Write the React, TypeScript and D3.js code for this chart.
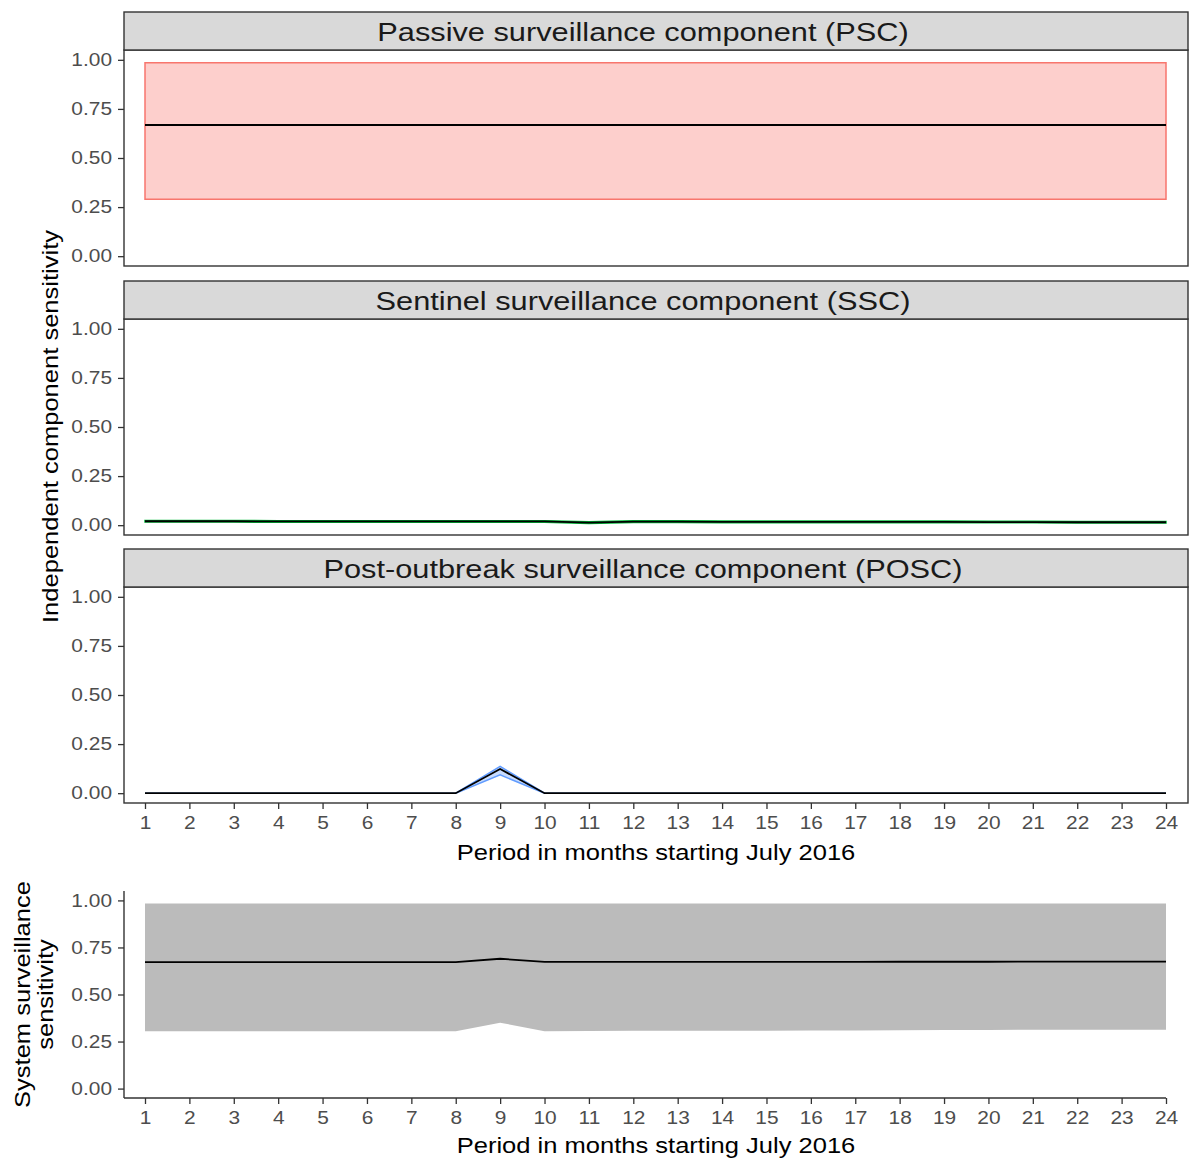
import { useEffect, useRef } from 'react';
import * as d3 from 'd3';

const periods = [1, 2, 3, 4, 5, 6, 7, 8, 9, 10, 11, 12, 13, 14, 15, 16, 17, 18, 19, 20, 21, 22, 23, 24];
const yTicks = [0, 0.25, 0.5, 0.75, 1];

// Passive surveillance component
const pscMedian = [0.668, 0.668, 0.668, 0.668, 0.668, 0.668, 0.668, 0.668, 0.668, 0.668, 0.668, 0.668, 0.668, 0.668, 0.668, 0.668, 0.668, 0.668, 0.668, 0.668, 0.668, 0.668, 0.668, 0.668];
const pscLower = [0.29, 0.29, 0.29, 0.29, 0.29, 0.29, 0.29, 0.29, 0.29, 0.29, 0.29, 0.29, 0.29, 0.29, 0.29, 0.29, 0.29, 0.29, 0.29, 0.29, 0.29, 0.29, 0.29, 0.29];
const pscUpper = [0.985, 0.985, 0.985, 0.985, 0.985, 0.985, 0.985, 0.985, 0.985, 0.985, 0.985, 0.985, 0.985, 0.985, 0.985, 0.985, 0.985, 0.985, 0.985, 0.985, 0.985, 0.985, 0.985, 0.985];

// Sentinel surveillance component
const sscMedian = [0.02, 0.02, 0.02, 0.019, 0.019, 0.019, 0.019, 0.019, 0.019, 0.019, 0.013, 0.018, 0.018, 0.017, 0.017, 0.017, 0.017, 0.017, 0.017, 0.016, 0.016, 0.015, 0.015, 0.015];
const sscLower = [0.016, 0.016, 0.016, 0.015, 0.015, 0.015, 0.015, 0.015, 0.015, 0.015, 0.009, 0.014, 0.014, 0.013, 0.013, 0.013, 0.013, 0.013, 0.013, 0.012, 0.012, 0.011, 0.011, 0.011];
const sscUpper = [0.024, 0.024, 0.024, 0.023, 0.023, 0.023, 0.023, 0.023, 0.023, 0.023, 0.017, 0.022, 0.022, 0.021, 0.021, 0.021, 0.021, 0.021, 0.021, 0.02, 0.02, 0.019, 0.019, 0.019];

// Post-outbreak surveillance component
const poscMedian = [0, 0, 0, 0, 0, 0, 0, 0, 0.123, 0, 0, 0, 0, 0, 0, 0, 0, 0, 0, 0, 0, 0, 0, 0];
const poscLower = [0, 0, 0, 0, 0, 0, 0, 0, 0.093, 0, 0, 0, 0, 0, 0, 0, 0, 0, 0, 0, 0, 0, 0, 0];
const poscUpper = [0, 0, 0, 0, 0, 0, 0, 0, 0.137, 0, 0, 0, 0, 0, 0, 0, 0, 0, 0, 0, 0, 0, 0, 0];

// System surveillance sensitivity
const sysMedian = [0.672, 0.672, 0.672, 0.672, 0.672, 0.672, 0.672, 0.672, 0.69, 0.673, 0.673, 0.673, 0.673, 0.673, 0.673, 0.673, 0.673, 0.674, 0.674, 0.674, 0.675, 0.675, 0.675, 0.675];
const sysLower = [0.305, 0.305, 0.305, 0.305, 0.305, 0.305, 0.305, 0.305, 0.35, 0.305, 0.306, 0.307, 0.307, 0.308, 0.308, 0.309, 0.309, 0.31, 0.312, 0.312, 0.313, 0.313, 0.313, 0.313];
const sysUpper = [0.984, 0.984, 0.984, 0.984, 0.984, 0.984, 0.984, 0.984, 0.984, 0.984, 0.984, 0.984, 0.984, 0.984, 0.984, 0.984, 0.984, 0.984, 0.984, 0.984, 0.984, 0.984, 0.984, 0.984];

const facets = [
  { title: 'Passive surveillance component (PSC)', median: pscMedian, lower: pscLower, upper: pscUpper, fill: '#F8766D', stroke: '#F8766D', top: 12 },
  { title: 'Sentinel surveillance component (SSC)', median: sscMedian, lower: sscLower, upper: sscUpper, fill: '#00BA38', stroke: '#00BA38', top: 281 },
  { title: 'Post-outbreak surveillance component (POSC)', median: poscMedian, lower: poscLower, upper: poscUpper, fill: '#619CFF', stroke: '#619CFF', top: 549 },
];

const FONT = '"Liberation Sans", Arial, Helvetica, sans-serif';
// the original font runs wider than Liberation Sans
const WIDEN = 1.16;

const App = () => {
  const svgRef = useRef<SVGSVGElement>(null);

  useEffect(() => {
    const svg = d3.select(svgRef.current);
    svg.selectAll('*').remove();

    const left = 124;
    const right = 1188;
    const stripH = 38;
    const panelH = 216;

    const x = d3.scaleLinear().domain([1, 24]).range([145, 1166]);

    const drawYAxis = (y: d3.ScaleLinear<number, number>) => {
      const ga = svg.append('g').attr('transform', `translate(${left},0)`)
        .call(d3.axisLeft(y).tickValues(yTicks).tickFormat(d3.format('.2f')).tickSize(6).tickPadding(6));
      ga.select('.domain').remove();
      ga.selectAll('.tick line').attr('stroke', '#333333').attr('stroke-width', 1.3);
      ga.selectAll('.tick text').attr('fill', '#4D4D4D').attr('font-size', 18).attr('font-family', FONT);
    };

    const drawXAxis = (yPos: number, titleY: number) => {
      const ga = svg.append('g').attr('transform', `translate(0,${yPos})`)
        .call(d3.axisBottom(x).tickValues(periods).tickFormat(d3.format('d')).tickSize(6).tickPadding(7));
      ga.select('.domain').remove();
      ga.selectAll('.tick line').attr('stroke', '#333333').attr('stroke-width', 1.3);
      ga.selectAll('.tick text').attr('fill', '#4D4D4D').attr('font-size', 18).attr('font-family', FONT);
      svg.append('text')
        .attr('x', (left + right) / 2)
        .attr('y', titleY)
        .attr('text-anchor', 'middle')
        .attr('font-size', 22)
        .attr('font-family', FONT)
        .attr('fill', '#000')
        .text('Period in months starting July 2016');
    };

    facets.forEach((f, fi) => {
      const pTop = f.top + stripH;
      const pBottom = pTop + panelH;
      const y = d3.scaleLinear().domain([-0.05, 1.05]).range([pBottom, pTop]);
      const rows = periods.map((p, i) => ({ p, m: f.median[i], lo: f.lower[i], hi: f.upper[i] }));

      svg.append('rect')
        .attr('x', left).attr('y', pTop).attr('width', right - left).attr('height', panelH)
        .attr('fill', '#fff');

      const area = d3.area<any>().x(d => x(d.p)).y0(d => y(d.lo)).y1(d => y(d.hi));
      svg.append('path')
        .datum(rows)
        .attr('d', area)
        .attr('fill', f.fill)
        .attr('fill-opacity', 0.35)
        .attr('stroke', f.stroke)
        .attr('stroke-width', 1.5);

      const line = d3.line<any>().x(d => x(d.p)).y(d => y(d.m));
      svg.append('path')
        .datum(rows)
        .attr('d', line)
        .attr('fill', 'none')
        .attr('stroke', '#000')
        .attr('stroke-width', 1.8);

      // panel border
      svg.append('rect')
        .attr('x', left).attr('y', pTop).attr('width', right - left).attr('height', panelH)
        .attr('fill', 'none').attr('stroke', '#333333').attr('stroke-width', 1.4);

      // strip
      svg.append('rect')
        .attr('x', left).attr('y', f.top).attr('width', right - left).attr('height', stripH)
        .attr('fill', '#D9D9D9').attr('stroke', '#333333').attr('stroke-width', 1.4);
      svg.append('text')
        .attr('x', 643)
        .attr('y', f.top + stripH / 2)
        .attr('dy', '0.36em')
        .attr('text-anchor', 'middle')
        .attr('font-size', 26.5)
        .attr('font-family', FONT)
        .attr('fill', '#1A1A1A')
        .text(f.title);

      drawYAxis(y);
      if (fi === facets.length - 1) drawXAxis(pBottom, 860);
    });

    svg.append('text')
      .attr('transform', `translate(58,${(50 + 803) / 2}) rotate(-90)`)
      .attr('text-anchor', 'middle')
      .attr('font-size', 22)
      .attr('font-family', FONT)
      .attr('fill', '#000')
      .text('Independent component sensitivity');

    // system panel
    const sTop = 891;
    const sBottom = 1098;
    const ys = d3.scaleLinear().domain([-0.05, 1.05]).range([sBottom, sTop]);
    const sysRows = periods.map((p, i) => ({ p, m: sysMedian[i], lo: sysLower[i], hi: sysUpper[i] }));

    svg.append('path')
      .datum(sysRows)
      .attr('d', d3.area<any>().x(d => x(d.p)).y0(d => ys(d.lo)).y1(d => ys(d.hi)))
      .attr('fill', '#BBBBBB');
    svg.append('path')
      .datum(sysRows)
      .attr('d', d3.line<any>().x(d => x(d.p)).y(d => ys(d.m)))
      .attr('fill', 'none')
      .attr('stroke', '#000')
      .attr('stroke-width', 1.8);

    svg.append('line')
      .attr('x1', left).attr('x2', left).attr('y1', sTop).attr('y2', sBottom)
      .attr('stroke', '#333333').attr('stroke-width', 1.4);
    svg.append('line')
      .attr('x1', left).attr('x2', x(24)).attr('y1', sBottom).attr('y2', sBottom)
      .attr('stroke', '#333333').attr('stroke-width', 1.4);

    drawYAxis(ys);
    drawXAxis(sBottom, 1153);

    svg.append('text')
      .attr('transform', `translate(30,${(sTop + sBottom) / 2}) rotate(-90)`)
      .attr('text-anchor', 'middle')
      .attr('font-size', 22)
      .attr('font-family', FONT)
      .attr('fill', '#000')
      .text('System surveillance');
    svg.append('text')
      .attr('transform', `translate(53,${(sTop + sBottom) / 2}) rotate(-90)`)
      .attr('text-anchor', 'middle')
      .attr('font-size', 22)
      .attr('font-family', FONT)
      .attr('fill', '#000')
      .text('sensitivity');

    // stretch every label along its run to the width of the original font
    svg.selectAll<SVGTextElement, unknown>('text').each(function () {
      const len = this.getComputedTextLength();
      d3.select(this)
        .attr('textLength', len * WIDEN)
        .attr('lengthAdjust', 'spacingAndGlyphs');
    });
  }, []);

  return (
    <div style={{ position: 'absolute', left: 0, top: 0 }}>
      <svg ref={svgRef} width={1192} height={1163}></svg>
    </div>
  );
};

export default App;
